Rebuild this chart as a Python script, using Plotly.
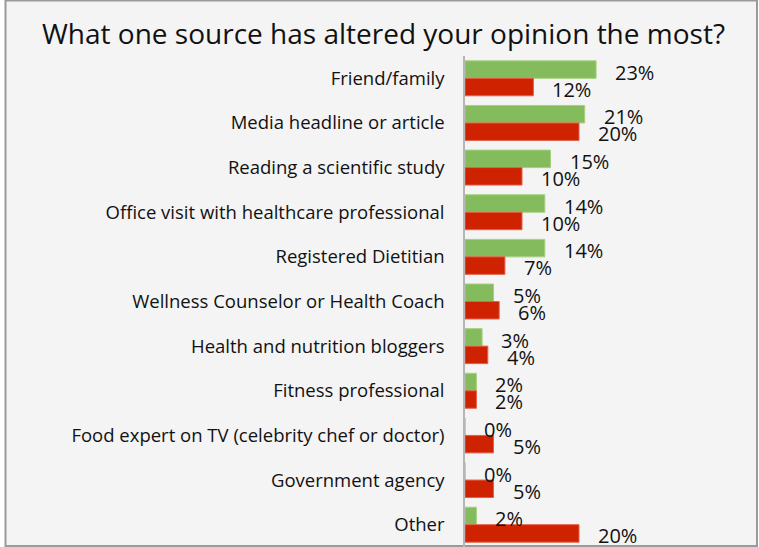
import plotly.graph_objects as go

# Survey answers, top to bottom
categories = [
    "Friend/family",
    "Media headline or article",
    "Reading a scientific study",
    "Office visit with healthcare professional",
    "Registered Dietitian",
    "Wellness Counselor or Health Coach",
    "Health and nutrition bloggers",
    "Fitness professional",
    "Food expert on TV (celebrity chef or doctor)",
    "Government agency",
    "Other",
]
green_values = [23, 21, 15, 14, 14, 5, 3, 2, 0, 0, 2]
red_values = [12, 20, 10, 10, 7, 6, 4, 2, 5, 5, 20]

GREEN = "#84bb5c"
RED = "#cf2200"
FONT = "'Open Sans', 'Noto Sans', sans-serif"

W, H = 759, 547
L, R, T, B = 465, 9, 56, 0
X_MAX = 50

pw = W - L - R
ph = H - T - B


def px_x(p):
    """Pixel column -> paper x coordinate."""
    return (p - L) / pw


def px_y(p):
    """Pixel row (from top) -> paper y coordinate."""
    return (H - B - p) / ph


fig = go.Figure()
fig.add_trace(go.Bar(
    y=categories, x=green_values, orientation="h",
    marker=dict(color=GREEN, line=dict(color="#a6d07f", width=1)),
    hoverinfo="x+y", showlegend=False,
))
fig.add_trace(go.Bar(
    y=categories, x=red_values, orientation="h",
    marker=dict(color=RED, line=dict(color="#e4604a", width=1)),
    hoverinfo="x+y", showlegend=False,
))

# Value labels placed just right of each bar end
annotations = []
for cat, g, r in zip(categories, green_values, red_values):
    annotations.append(dict(
        x=g, y=cat, xref="x", yref="y", text=f"{g}%", showarrow=False,
        xanchor="left", yanchor="middle", xshift=17, yshift=6,
        font=dict(family=FONT, size=20, color="#111111"),
    ))
    annotations.append(dict(
        x=r, y=cat, xref="x", yref="y", text=f"{r}%", showarrow=False,
        xanchor="left", yanchor="middle", xshift=17, yshift=-11,
        font=dict(family=FONT, size=20, color="#111111"),
    ))

# Chart title
annotations.append(dict(
    x=px_x(383.5), y=px_y(33), xref="paper", yref="paper",
    text="What one source has altered your opinion the most?",
    showarrow=False, xanchor="center", yanchor="middle",
    font=dict(family=FONT, size=28, color="#111111"),
))

# Frame around the chart area
shapes = [dict(
    type="rect", xref="paper", yref="paper", layer="below",
    x0=px_x(5.5), x1=px_x(757), y0=px_y(546), y1=px_y(0.5),
    fillcolor="#f4f4f4", line=dict(color="#9a9a9a", width=2),
)]

fig.update_layout(
    width=W, height=H,
    margin=dict(l=L, r=R, t=T, b=B, pad=0),
    paper_bgcolor="white",
    plot_bgcolor="rgba(0,0,0,0)",
    barmode="group", bargap=0.217, bargroupgap=0,
    annotations=annotations,
    shapes=shapes,
    xaxis=dict(range=[0, X_MAX], visible=False, fixedrange=True),
    yaxis=dict(
        range=[10.5, -0.5], type="category",
        showline=True, linecolor="#b5b5b5", linewidth=1.5,
        showgrid=False, zeroline=False, ticks="",
        ticklabelstandoff=15,
        tickfont=dict(family=FONT, size=18.5, color="#111111"),
    ),
)

fig.write_html("out.html")
